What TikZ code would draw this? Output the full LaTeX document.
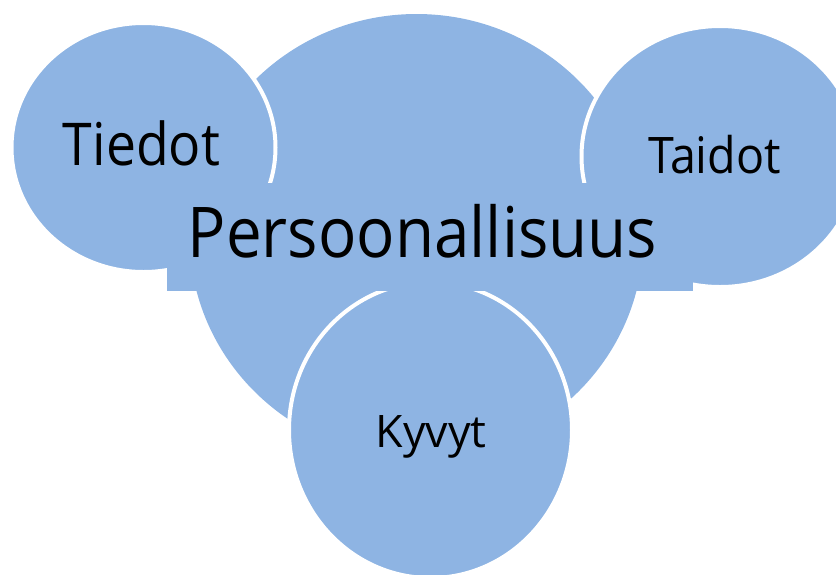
\documentclass[tikz,border=0pt]{standalone}
\usepackage{fontspec}
\setmainfont{Open Sans}
\usetikzlibrary{shapes.geometric}
\definecolor{cblue}{RGB}{142,180,227}
\begin{document}
\begin{tikzpicture}[x=1pt,y=-1pt,
  blob/.style={ellipse, fill=cblue, draw=white, line width=4pt, inner sep=0pt},
  lbl/.style={anchor=base, inner sep=0pt, text=black}]
\useasboundingbox (0,0) rectangle (836,574);
\node[ellipse, fill=cblue, inner sep=0pt, minimum width=454pt, minimum height=444pt] (pers) at (416.5,236) {};
\node[blob, minimum width=264pt, minimum height=249pt] (tiedot) at (143.5,147.5) {};
\node[blob, minimum width=277pt, minimum height=261pt] (taidot) at (720,156.5) {};
\node[blob, minimum width=283pt, minimum height=296pt] (kyvyt) at (430.5,430) {};
\node[fill=cblue, inner sep=0pt, minimum width=526pt, minimum height=108pt] (band) at (430,237) {};
\node[lbl, font=\fontsize{70}{84}\selectfont] (tpers) at (422.5,257) {\scalebox{0.91}[1]{Persoonallisuus}};
\node[lbl, font=\fontsize{59}{70}\selectfont] (ttiedot) at (141.5,165) {\scalebox{0.907}[1]{Tiedot}};
\node[lbl, font=\fontsize{50.4}{60}\selectfont] (ttaidot) at (714.5,173) {\scalebox{0.925}[1]{Taidot}};
\node[lbl, font=\fontsize{44.8}{54}\selectfont] (tkyvyt) at (431,447) {Kyvyt};
\end{tikzpicture}
\end{document}
